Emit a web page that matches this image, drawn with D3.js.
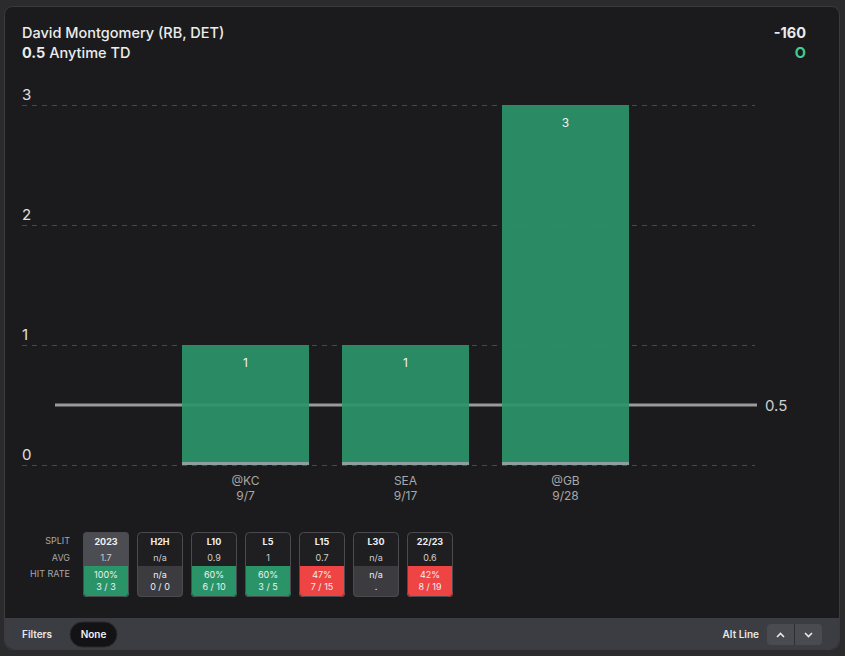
<!DOCTYPE html>
<html><head><meta charset="utf-8">
<script src="https://cdn.jsdelivr.net/npm/d3@7"></script>
<style>
html,body{margin:0;padding:0;background:#2b2b2e;}
svg{display:block;font-family:Inter,"Noto Sans",sans-serif;}
</style></head>
<body><svg id="c" width="845" height="656"></svg>
<script>
const categories = ["@KC","SEA","@GB"];
const dates = ["9/7","9/17","9/28"];
const values = [1,1,3];
const yTicks = [0,1,2,3];
const line = 0.5;
const splitNames = ["2023","H2H","L10","L5","L15","L30","22/23"];
const splitAvg = ["1.7","n/a","0.9","1","0.7","n/a","0.6"];
const splitRate = ["100%","n/a","60%","60%","47%","n/a","42%"];
const splitCount = ["3 / 3","0 / 0","6 / 10","3 / 5","7 / 15",".","8 / 19"];
const splitStatus = ["hit","na","hit","hit","miss","na","miss"];

const svg = d3.select("#c");
// card
svg.append("rect").attr("x",4.5).attr("y",6.5).attr("width",835).attr("height",643).attr("rx",8)
  .attr("fill","#1b1b1d").attr("stroke","#3b3b3e");
// footer
svg.append("path").attr("d","M5,618 H839 V641 a8,8 0 0 1 -8,8 H13 a8,8 0 0 1 -8,-8 Z").attr("fill","#3c3d42");

// header
svg.append("text").attr("x",22).attr("y",38).attr("fill","#ececec").attr("font-size",14.5).attr("font-weight",500)
  .text("David Montgomery (RB, DET)");
const sub = svg.append("text").attr("x",22).attr("y",58).attr("fill","#ececec").attr("font-size",14.5).attr("font-weight",500);
sub.append("tspan").attr("font-weight",700).text("0.5");
sub.append("tspan").text(" Anytime TD");
svg.append("text").attr("x",806).attr("y",38).attr("text-anchor","end").attr("fill","#ececec").attr("font-size",14.5).attr("font-weight",700).text("-160");
svg.append("text").attr("x",806).attr("y",58).attr("text-anchor","end").attr("fill","#3ecf8e").attr("font-size",14.5).attr("font-weight",700).text("O");

// scales
const y = d3.scaleLinear().domain([0,3]).range([465,105]);
const x = d3.scaleBand().domain(categories).range([165.5,645.5]).paddingInner(0.206).paddingOuter(0.103);

// grid
const g = svg.append("g");
g.selectAll("line.grid").data(yTicks).join("line").attr("class","grid")
  .attr("x1",22).attr("x2",755).attr("y1",d=>y(d)+0.5).attr("y2",d=>y(d)+0.5)
  .attr("stroke","#48484c").attr("stroke-dasharray","5,5");
g.selectAll("text.yl").data(yTicks).join("text").attr("class","yl")
  .attr("x",22).attr("y",d=>y(d)-5).attr("fill","#e0e0e0").attr("font-size",15).text(d=>d);

// line (under bars)
g.append("line").attr("x1",55).attr("x2",757).attr("y1",y(line)).attr("y2",y(line))
  .attr("stroke","#9b9b9b").attr("stroke-width",3);
g.append("text").attr("x",765).attr("y",y(line)+6).attr("fill","#cfcfcf").attr("font-size",15).text(line);

// bars
g.selectAll("rect.bar").data(values).join("rect").attr("class","bar")
  .attr("x",(d,i)=>x(categories[i])).attr("width",x.bandwidth())
  .attr("y",d=>y(d)).attr("height",d=>y(0)-y(d)).attr("fill","#2b9469").attr("fill-opacity",0.92);
g.selectAll("rect.base").data(values).join("rect").attr("class","base")
  .attr("x",(d,i)=>x(categories[i])).attr("width",x.bandwidth())
  .attr("y",y(0)-3).attr("height",3).attr("fill","#8e9ea1");
g.selectAll("text.bv").data(values).join("text").attr("class","bv")
  .attr("x",(d,i)=>x(categories[i])+x.bandwidth()/2).attr("y",d=>y(d)+22)
  .attr("text-anchor","middle").attr("fill","#f2f2f2").attr("font-size",12).text(d=>d);

// x labels
categories.forEach((c,i)=>{
  const cx = x(c)+x.bandwidth()/2;
  g.append("text").attr("x",cx).attr("y",485).attr("text-anchor","middle").attr("fill","#a8a8a8").attr("font-size",12).text(c);
  g.append("text").attr("x",cx).attr("y",500).attr("text-anchor","middle").attr("fill","#a8a8a8").attr("font-size",12).text(dates[i]);
});

// split table
const lab = ["SPLIT","AVG","HIT RATE"], labY=[544,561,577];
lab.forEach((t,i)=>svg.append("text").attr("x",70).attr("y",labY[i]).attr("text-anchor","end")
  .attr("fill","#a8a8a8").attr("font-size",9).text(t));
const colors = {hit:"#2a9468", na:"#3b3b40", miss:"#ef4444"};
const bx = d3.scaleBand().domain(splitNames).range([83,83+54*7-8]).paddingInner(8/54).paddingOuter(0);
splitNames.forEach((n,i)=>{
  const x0 = bx(n), w = bx.bandwidth();
  const gg = svg.append("g");
  gg.append("clipPath").attr("id","cp"+i).append("rect").attr("x",x0).attr("y",532).attr("width",w).attr("height",65).attr("rx",4);
  const inner = gg.append("g").attr("clip-path","url(#cp"+i+")");
  inner.append("rect").attr("x",x0).attr("y",532).attr("width",w).attr("height",34).attr("fill",i===0?"#4c4c53":"#1f1f22");
  inner.append("rect").attr("x",x0).attr("y",566).attr("width",w).attr("height",31).attr("fill",colors[splitStatus[i]]);
  gg.append("rect").attr("x",x0+0.5).attr("y",532.5).attr("width",w-1).attr("height",64).attr("rx",4)
    .attr("fill","none").attr("stroke","#4a4a4f");
  gg.append("text").attr("x",x0+w/2).attr("y",545).attr("text-anchor","middle").attr("fill","#f0f0f0").attr("font-size",9).attr("font-weight",700).text(n);
  gg.append("text").attr("x",x0+w/2).attr("y",561).attr("text-anchor","middle").attr("fill","#cfcfcf").attr("font-size",9).text(splitAvg[i]);
  gg.append("text").attr("x",x0+w/2).attr("y",578).attr("text-anchor","middle").attr("fill","#f0f0f0").attr("font-size",9).text(splitRate[i]);
  gg.append("text").attr("x",x0+w/2).attr("y",590).attr("text-anchor","middle").attr("fill","#f0f0f0").attr("font-size",9).text(splitCount[i]);
});

// footer contents
svg.append("text").attr("x",22).attr("y",638).attr("fill","#e8e8e8").attr("font-size",10).attr("font-weight",600).text("Filters");
svg.append("rect").attr("x",70).attr("y",622).attr("width",47).attr("height",25).attr("rx",12.5).attr("fill","#131315").attr("stroke","#2a2a2c");
svg.append("text").attr("x",93.5).attr("y",638).attr("text-anchor","middle").attr("fill","#f0f0f0").attr("font-size",10).attr("font-weight",600).text("None");
svg.append("text").attr("x",759).attr("y",638).attr("text-anchor","end").attr("fill","#e8e8e8").attr("font-size",10).attr("font-weight",600).text("Alt Line");
svg.append("rect").attr("x",767).attr("y",624).attr("width",55).attr("height",21).attr("rx",4).attr("fill","#4a4b51");
svg.append("line").attr("x1",794.5).attr("x2",794.5).attr("y1",624).attr("y2",645).attr("stroke","#2e2f33");
svg.append("path").attr("d","M777,637 L780.5,633.5 L784,637").attr("fill","none").attr("stroke","#e8e8e8").attr("stroke-width",1.6);
svg.append("path").attr("d","M805,633 L808.5,636.5 L812,633").attr("fill","none").attr("stroke","#e8e8e8").attr("stroke-width",1.6);
</script></body></html>
